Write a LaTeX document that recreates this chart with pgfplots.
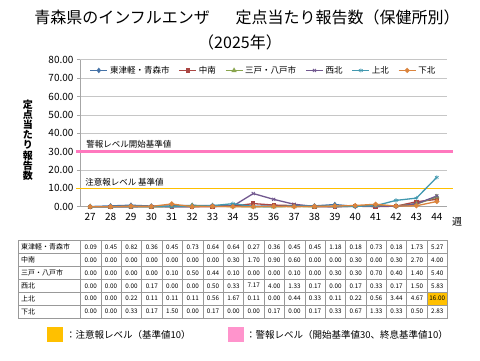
\documentclass[border=0pt]{standalone}
\usepackage{fontspec}
\setmainfont{Noto Sans CJK JP}
\usepackage{pgfplots}
\usepackage{pgfplotstable}
\pgfplotsset{compat=1.18}
\definecolor{c1}{HTML}{4572A7}
\definecolor{c2}{HTML}{AA4643}
\definecolor{c3}{HTML}{89A54E}
\definecolor{c4}{HTML}{71588F}
\definecolor{c5}{HTML}{4198AF}
\definecolor{c6}{HTML}{DB843D}
\definecolor{pinkbox}{rgb}{1,0.58,0.8}
\definecolor{caut}{HTML}{FFC000}
\pgfplotstableread{
week a b c d e f
27 0.09 0.00 0.00 0.00 0.00 0.00
28 0.45 0.00 0.00 0.00 0.00 0.00
29 0.82 0.00 0.00 0.00 0.22 0.33
30 0.36 0.00 0.00 0.17 0.11 0.17
31 0.45 0.00 0.10 0.00 0.11 1.50
32 0.73 0.00 0.50 0.00 0.11 0.00
33 0.64 0.00 0.44 0.50 0.56 0.17
34 0.64 0.30 0.10 0.33 1.67 0.00
35 0.27 1.70 0.00 7.17 0.11 0.00
36 0.36 0.90 0.00 4.00 0.00 0.17
37 0.45 0.60 0.10 1.33 0.44 0.00
38 0.45 0.00 0.00 0.17 0.33 0.17
39 1.18 0.00 0.30 0.00 0.11 0.33
40 0.18 0.30 0.30 0.17 0.22 0.67
41 0.73 0.00 0.70 0.33 0.56 1.33
42 0.18 0.30 0.40 0.17 3.44 0.33
43 1.73 2.70 1.40 1.50 4.67 0.50
44 5.27 4.00 5.40 5.83 16.00 2.83
}\data
\pgfplotstableread{
x y
26.3 30
44.8 30
}\warnline
\pgfplotstableread{
x y
26.3 10
44.8 10
}\cautline
\begin{document}
\begin{tikzpicture}
\begin{scope}[x=1pt,y=-1pt]
\useasboundingbox (0,0) rectangle (480,360);
\node[font=\fontsize{16}{18}\selectfont] at (247,17) {青森県のインフルエンザ\hspace{1.6em}定点当たり報告数（保健所別）};
\node[font=\fontsize{16}{18}\selectfont] at (240,42) {（2025年）};
\node[font=\fontsize{10}{10.2}\selectfont\bfseries, align=center] at (28,140) {定\\点\\当\\た\\り\\報\\告\\数};
\node[font=\fontsize{10}{12}\selectfont] at (457,222) {週};
% table
\fill[caut] (427.1,292.2) rectangle (447.5,305.1);
\foreach \k in {0,...,6} {\draw[gray!80, line width=0.5pt] (18,{240.5+12.92*\k}) -- (447.5,{240.5+12.92*\k});}
\draw[gray!80, line width=0.5pt] (18,240.5) -- (18,318);
\foreach \i in {0,...,18} {\draw[gray!80, line width=0.5pt] ({80.5+20.39*\i},240.5) -- ({80.5+20.39*\i},318);}
\foreach \lab [count=\k from 0] in {東津軽・青森市,中南,三戸・八戸市,西北,上北,下北} {
  \node[anchor=west, font=\fontsize{7}{8}\selectfont, inner sep=0pt] at (21,{247+12.92*\k}) {\lab};
}
\foreach \r in {0,...,17} {
  \foreach \c [count=\k from 0] in {a,b,c,d,e,f} {
    \pgfplotstablegetelem{\r}{\c}\of\data
    \node[font=\fontsize{6.3}{7}\selectfont, inner sep=0pt] at ({90.7+20.39*\r},{247+12.92*\k}) {\pgfplotsretval};
  }
}
% bottom legend
\fill[caut] (47,327) rectangle (63,342);
\node[anchor=west, font=\fontsize{9.5}{11}\selectfont, inner sep=0pt] at (66,334.5) {：注意報レベル（基準値10）};
\fill[pinkbox] (228,327) rectangle (244,342);
\node[anchor=west, font=\fontsize{9.5}{11}\selectfont, inner sep=0pt] at (246,334.5) {：警報レベル（開始基準値30、終息基準値10）};
\end{scope}
\begin{axis}[
  at={(80pt,-206.7pt)}, anchor=south west,
  scale only axis, width=367pt, height=147pt,
  xmin=26.5, xmax=44.5, ymin=0, ymax=80,
  xtick={27,...,44}, ytick={0,10,...,80},
  minor xtick={26.5,27.5,...,44.5},
  /pgf/number format/assume math mode=true,
  yticklabel style={/pgf/number format/.cd,fixed,fixed zerofill,precision=2},
  ymajorgrids, grid style={gray!45, line width=0.6pt},
  axis x line*=bottom, axis y line*=left,
  axis line style={gray!70, line width=0.6pt},
  x axis line style={-}, y axis line style={-},
  tick align=outside,
  xtick style={draw=none},
  minor x tick style={gray!70, line width=0.6pt},
  minor tick length=4pt,
  ytick style={gray!70, line width=0.6pt},
  major tick length=3pt,
  ticklabel style={font=\fontsize{10}{12}\selectfont},
  clip=false,
  legend columns=6,
  legend style={draw=none, fill=none, at={(0.5,0.985)}, anchor=north, font=\fontsize{8.5}{10}\selectfont, /tikz/every even column/.append style={column sep=7pt}},
  every axis plot/.append style={line width=1.3pt, mark size=1.8pt, mark options={solid}},
]
\addplot[forget plot, draw=caut, line width=1.6pt, mark=none] table[x=x,y=y] {\cautline};
\addplot[forget plot, draw={rgb,255:red,255;green,120;blue,190}, line width=2.3pt, mark=none] table[x=x,y=y] {\warnline};
\addplot[c1, mark=diamond*] table[x=week,y=a] {\data};
\addplot[c2, mark=square*, mark size=1.5pt] table[x=week,y=b] {\data};
\addplot[c3, mark=triangle*] table[x=week,y=c] {\data};
\addplot[c4, mark=x, mark size=2.2pt, mark options={line width=0.8pt}] table[x=week,y=d] {\data};
\addplot[c5, mark=asterisk, mark size=2.2pt, mark options={line width=0.6pt}] table[x=week,y=e] {\data};
\addplot[c6, mark=*] table[x=week,y=f] {\data};
\legend{東津軽・青森市,中南,三戸・八戸市,西北,上北,下北}
\node[anchor=west, font=\fontsize{8.5}{10}\selectfont, inner sep=0pt] at (axis cs:26.8,34.1) {警報レベル開始基準値};
\node[anchor=west, font=\fontsize{8.5}{10}\selectfont, inner sep=0pt] at (axis cs:26.75,13.4) {注意報レベル 基準値};
\end{axis}
\end{tikzpicture}
\end{document}
